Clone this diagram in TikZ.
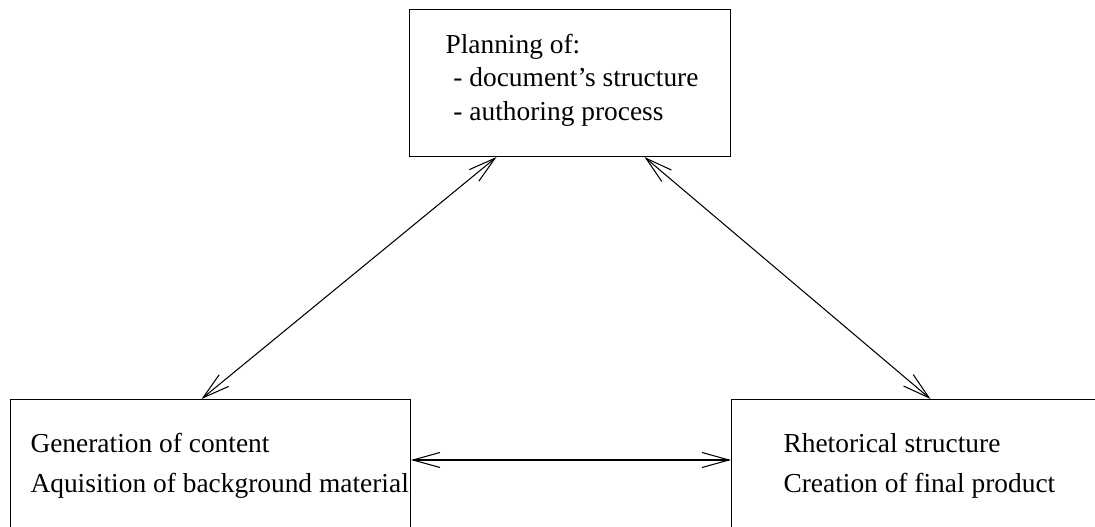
\documentclass[tikz,border=0pt]{standalone}
\usepackage{fontspec}
\setmainfont{Liberation Serif}
\usetikzlibrary{arrows.meta}

\begin{document}
\begin{tikzpicture}[x=0.02cm, y=-0.02cm, line width=0.6pt,
    box/.style={draw, inner sep=0pt, anchor=north west, minimum width=8cm, minimum height=3.62cm},
    label text/.style={anchor=base west, inner sep=0pt, align=left},
    link/.style={{Straight Barb[length=5.4mm, width=3mm]}-{Straight Barb[length=5.4mm, width=3mm]}}]
      \clip (0,0) rectangle (1095,527);

      % the three boxes
      \node[box, minimum width=6.42cm, minimum height=2.94cm] (plan) at (409,9) {};
      \node[box] (gen) at (10,399) {};
      \node[box] (rhet) at (731,399) {};

      % box texts, placed by the baseline of their last line
      \node[label text, font=\fontsize{15.6}{18.9}\selectfont] (plantext) at (445,120)
        {Planning of:\\\hspace{4.5pt}- document's structure\\\hspace{4.5pt}- authoring process};
      \node[label text, font=\fontsize{15.6}{22.7}\selectfont] (gentext) at (30,492)
        {Generation of content\\Aquisition of background material};
      \node[label text, font=\fontsize{15.6}{22.7}\selectfont] (rhettext) at (783,492)
        {Rhetorical structure\\Creation of final product};

      \draw[link] ([xshift=-1.47cm]plan.south) -- ([xshift=-0.18cm]gen.north);
      \draw[link] ([xshift=1.49cm]plan.south) -- ([xshift=-0.02cm]rhet.north);
      \draw[link] ([yshift=-1.22cm]gen.north east) -- ([yshift=-1.22cm]rhet.north west);
\end{tikzpicture}
\end{document}
